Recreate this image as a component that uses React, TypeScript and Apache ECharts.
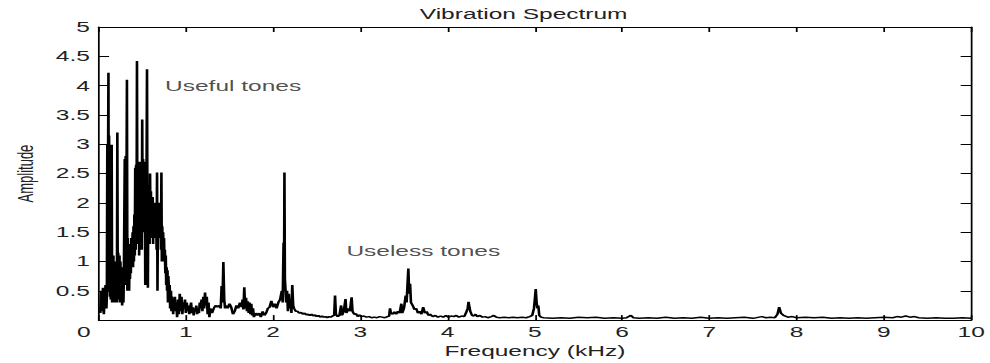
import React, { useEffect, useRef } from "react";
import * as echarts from "echarts";

// ---- data (frequency kHz, amplitude) ----
const lowBand: [number, number][] = [
  [0.02, 0.12], [0.03, 0.5], [0.04, 0.15], [0.05, 0.55], [0.06, 0.1], [0.07, 0.35], [0.08, 0.6], [0.09, 0.2], [0.095, 0.45],
  [0.1, 3.0], [0.105, 0.6], [0.11, 3.2], [0.113, 4.22], [0.117, 0.5], [0.12, 3.15], [0.125, 2.6],
  [0.13, 0.4], [0.135, 0.8], [0.14, 0.35], [0.15, 2.99], [0.155, 0.3], [0.16, 0.9], [0.165, 0.4], [0.17, 1.1], [0.175, 0.35],
  [0.18, 0.8], [0.185, 0.3], [0.19, 1.0], [0.195, 0.5], [0.2, 0.9], [0.21, 0.3], [0.215, 3.2], [0.22, 0.5], [0.225, 1.15],
  [0.23, 0.35], [0.24, 1.1], [0.245, 0.3], [0.25, 1.0], [0.26, 0.4], [0.265, 0.9], [0.27, 0.25], [0.28, 0.6], [0.285, 0.3], [0.29, 0.8],
  [0.3, 2.75], [0.305, 0.8], [0.31, 2.8], [0.315, 0.6], [0.32, 2.4], [0.325, 4.1], [0.33, 0.5],
  [0.335, 1.4], [0.34, 0.6], [0.345, 1.3], [0.35, 0.5], [0.355, 1.2], [0.36, 0.7], [0.365, 1.3], [0.37, 0.8], [0.375, 1.4],
  [0.38, 0.9], [0.39, 1.5], [0.395, 0.9], [0.4, 1.6], [0.405, 1.0], [0.41, 1.8],
  [0.415, 1.1], [0.42, 2.6], [0.425, 1.2], [0.43, 2.65], [0.435, 1.5], [0.44, 4.42], [0.445, 1.3], [0.45, 2.7], [0.455, 1.6],
  [0.46, 2.5], [0.465, 1.1], [0.47, 2.4], [0.475, 1.7], [0.48, 2.7], [0.485, 1.5], [0.49, 2.6], [0.495, 1.2], [0.5, 3.42],
  [0.505, 1.6], [0.51, 2.75], [0.515, 1.5], [0.52, 2.5], [0.525, 1.7], [0.53, 2.7], [0.535, 0.6], [0.54, 2.4], [0.545, 1.8],
  [0.55, 2.6], [0.555, 4.28], [0.56, 1.5], [0.565, 0.55], [0.57, 2.2], [0.575, 1.6], [0.58, 2.3], [0.585, 1.3], [0.59, 2.5],
  [0.595, 1.6], [0.6, 2.2], [0.605, 1.4], [0.61, 2.0], [0.615, 1.5], [0.62, 2.1], [0.625, 1.3], [0.63, 1.9], [0.635, 1.5],
  [0.64, 2.0], [0.645, 1.4], [0.65, 1.8], [0.655, 1.5], [0.66, 1.9],
  [0.665, 1.2], [0.67, 2.52], [0.675, 0.5], [0.68, 1.8], [0.685, 1.4], [0.69, 1.9], [0.695, 1.5], [0.7, 2.0], [0.705, 1.4],
  [0.71, 1.9], [0.715, 1.2], [0.72, 2.52], [0.725, 1.0], [0.73, 1.6], [0.735, 1.1], [0.74, 1.5], [0.745, 1.0], [0.75, 1.4],
  [0.755, 1.0], [0.76, 1.2],
  [0.765, 0.8], [0.77, 1.1], [0.775, 0.6], [0.78, 0.9], [0.785, 0.5], [0.79, 0.85], [0.795, 0.3], [0.8, 0.75], [0.81, 0.35],
  [0.815, 0.6], [0.82, 0.2], [0.83, 0.5], [0.835, 0.15], [0.84, 0.4], [0.85, 0.3], [0.855, 0.1], [0.86, 0.35], [0.87, 0.2],
  [0.875, 0.4], [0.88, 0.15], [0.89, 0.3], [0.9, 0.05], [0.91, 0.35], [0.92, 0.1], [0.93, 0.45], [0.94, 0.15], [0.95, 0.4],
  [0.96, 0.1], [0.97, 0.3], [0.98, 0.2], [0.99, 0.35], [1.0, 0.12],
];

const midBand: [number, number][] = [
  [1.01, 0.3], [1.02, 0.15], [1.03, 0.25], [1.04, 0.1], [1.05, 0.2], [1.06, 0.3], [1.07, 0.12], [1.08, 0.22], [1.09, 0.08],
  [1.1, 0.2], [1.11, 0.15], [1.12, 0.25], [1.13, 0.1], [1.14, 0.2], [1.15, 0.12], [1.16, 0.3], [1.17, 0.2], [1.18, 0.35],
  [1.19, 0.15], [1.2, 0.4], [1.21, 0.2], [1.22, 0.47], [1.23, 0.25], [1.24, 0.4], [1.25, 0.1], [1.26, 0.3], [1.27, 0.05],
  [1.28, 0.2], [1.3, 0.12], [1.32, 0.2], [1.34, 0.25], [1.36, 0.22], [1.38, 0.25], [1.4, 0.2], [1.41, 0.58], [1.42, 0.3],
  [1.43, 0.99], [1.44, 0.35], [1.45, 0.2], [1.46, 0.25], [1.48, 0.2], [1.5, 0.28], [1.52, 0.22], [1.54, 0.1], [1.56, 0.15],
  [1.58, 0.25], [1.6, 0.2], [1.62, 0.3], [1.64, 0.22], [1.65, 0.35], [1.66, 0.18], [1.67, 0.56], [1.68, 0.2], [1.69, 0.38],
  [1.7, 0.15], [1.71, 0.32], [1.72, 0.12], [1.73, 0.3], [1.74, 0.1], [1.75, 0.28], [1.76, 0.08], [1.77, 0.2], [1.78, 0.05],
  [1.8, 0.12], [1.82, 0.08], [1.84, 0.12], [1.86, 0.05], [1.88, 0.15], [1.9, 0.08], [1.92, 0.12], [1.94, 0.2], [1.96, 0.22],
  [1.98, 0.33], [2.0, 0.22], [2.02, 0.28], [2.04, 0.2], [2.06, 0.3], [2.08, 0.35], [2.1, 0.5], [2.11, 0.3], [2.12, 1.32],
  [2.125, 0.5], [2.13, 2.52], [2.135, 0.7], [2.14, 0.58], [2.15, 0.3], [2.16, 0.5], [2.17, 0.15], [2.18, 0.45], [2.19, 0.2],
  [2.2, 0.35], [2.21, 0.12], [2.22, 0.6], [2.23, 0.25], [2.24, 0.2], [2.26, 0.15], [2.28, 0.15], [2.3, 0.12], [2.32, 0.13],
  [2.34, 0.1], [2.36, 0.12], [2.38, 0.09], [2.4, 0.1], [2.42, 0.08], [2.44, 0.1], [2.46, 0.07], [2.48, 0.09], [2.5, 0.06],
  [2.52, 0.08], [2.54, 0.05], [2.56, 0.07], [2.58, 0.05], [2.6, 0.06], [2.62, 0.04], [2.64, 0.06], [2.66, 0.05], [2.68, 0.07],
];

const upperBand: [number, number][] = [
  [2.7, 0.08], [2.71, 0.42], [2.72, 0.1], [2.74, 0.06], [2.76, 0.08], [2.78, 0.25], [2.79, 0.08], [2.81, 0.15], [2.83, 0.36],
  [2.84, 0.12], [2.86, 0.2], [2.88, 0.15], [2.9, 0.39], [2.91, 0.15], [2.93, 0.1], [2.95, 0.11], [2.97, 0.06], [2.99, 0.09],
  [3.01, 0.06], [3.04, 0.07], [3.07, 0.05], [3.1, 0.06], [3.13, 0.04], [3.16, 0.05], [3.19, 0.04], [3.22, 0.06], [3.25, 0.05],
  [3.28, 0.04], [3.31, 0.06], [3.33, 0.07], [3.34, 0.2], [3.35, 0.12], [3.37, 0.1], [3.39, 0.14], [3.41, 0.1], [3.43, 0.15],
  [3.45, 0.12], [3.47, 0.28], [3.48, 0.12], [3.5, 0.2], [3.52, 0.42], [3.53, 0.3], [3.55, 0.88], [3.56, 0.45], [3.57, 0.62],
  [3.58, 0.3], [3.6, 0.25], [3.62, 0.18], [3.64, 0.2], [3.66, 0.12], [3.68, 0.15], [3.7, 0.1], [3.72, 0.22], [3.74, 0.12],
  [3.76, 0.15], [3.78, 0.08], [3.8, 0.1], [3.83, 0.06], [3.86, 0.08], [3.89, 0.05], [3.92, 0.07], [3.95, 0.05], [3.98, 0.08],
  [4.01, 0.05], [4.04, 0.07], [4.07, 0.06], [4.1, 0.08], [4.13, 0.05], [4.16, 0.07], [4.19, 0.06], [4.21, 0.12], [4.23, 0.2],
  [4.24, 0.31], [4.25, 0.22], [4.26, 0.15], [4.28, 0.08], [4.3, 0.07], [4.32, 0.1], [4.34, 0.06], [4.37, 0.08], [4.4, 0.05],
  [4.43, 0.06], [4.46, 0.04], [4.5, 0.06], [4.53, 0.08], [4.56, 0.05], [4.6, 0.04], [4.65, 0.05], [4.7, 0.04], [4.75, 0.05],
  [4.8, 0.04], [4.85, 0.05], [4.9, 0.04], [4.94, 0.06], [4.97, 0.08], [4.99, 0.2], [5.0, 0.36], [5.01, 0.53], [5.02, 0.3],
  [5.03, 0.2], [5.04, 0.25], [5.05, 0.08], [5.07, 0.05],
];

const tailBand: [number, number][] = [
  [5.1, 0.04], [5.2, 0.03], [5.3, 0.04], [5.4, 0.03], [5.5, 0.05], [5.6, 0.04], [5.7, 0.05], [5.8, 0.03], [5.9, 0.04],
  [6.0, 0.03], [6.05, 0.04], [6.1, 0.08], [6.13, 0.04], [6.2, 0.03], [6.3, 0.04], [6.4, 0.03], [6.5, 0.05], [6.6, 0.03],
  [6.7, 0.04], [6.8, 0.03], [6.9, 0.05], [7.0, 0.03], [7.1, 0.04], [7.2, 0.03], [7.3, 0.04], [7.4, 0.05], [7.5, 0.03],
  [7.6, 0.06], [7.65, 0.04], [7.7, 0.05], [7.75, 0.04], [7.78, 0.1], [7.8, 0.22], [7.82, 0.12], [7.85, 0.08], [7.9, 0.05],
  [7.95, 0.06], [8.0, 0.04], [8.1, 0.05], [8.2, 0.04], [8.3, 0.05], [8.4, 0.03], [8.5, 0.04], [8.6, 0.03], [8.7, 0.04],
  [8.8, 0.03], [8.9, 0.04], [9.0, 0.05], [9.1, 0.04], [9.15, 0.06], [9.2, 0.05], [9.25, 0.07], [9.3, 0.05], [9.35, 0.06],
  [9.4, 0.04], [9.5, 0.03], [9.6, 0.04], [9.7, 0.03], [9.8, 0.03], [9.9, 0.04], [10.0, 0.03],
];

const annotationTexts = ["Useful tones", "Useless tones"];
const annotationPoints: [number, number][] = [[0.752, 3.99], [2.83, 1.17]];

const CHART_W = 566;
const CHART_H = 363;
const STRETCH = 990 / CHART_W;

export default function App() {
  const ref = useRef<HTMLDivElement>(null);

  useEffect(() => {
    if (!ref.current) return;
    const chart = echarts.init(ref.current, null, { renderer: "svg", width: CHART_W, height: CHART_H });
    const font = "Liberation Sans, Arial, Helvetica, sans-serif";
    const txt = "#222";
    const spectrum = [...lowBand, ...midBand, ...upperBand, ...tailBand];
    const baseAxisLine = { show: true, onZero: false, lineStyle: { color: "#000", width: 1 } };

    chart.setOption({
      animation: false,
      backgroundColor: "#fff",
      title: {
        text: "Vibration Spectrum",
        left: 240,
        top: 7,
        padding: 0,
        textStyle: { fontFamily: font, fontSize: 14, fontWeight: "normal", color: txt },
      },
      grid: { left: 55, right: 7, top: 27, bottom: 38, containLabel: false },
      xAxis: [
        {
          type: "value",
          min: 0,
          max: 10,
          interval: 1,
          position: "bottom",
          name: "Frequency (kHz)",
          nameLocation: "middle",
          nameGap: 21,
          nameTextStyle: { fontFamily: font, fontSize: 14, color: txt },
          axisLine: baseAxisLine,
          axisTick: { show: true, inside: true, length: 5, lineStyle: { color: "#000" } },
          axisLabel: {
            show: true,
            margin: 5,
            fontFamily: font,
            fontSize: 14,
            color: txt,
            formatter: (v: number) => (v === 0 ? "{z|0}" : String(v)),
            rich: { z: { fontFamily: font, fontSize: 14, color: txt, padding: [0, 17, 0, 0] } },
          },
          splitLine: { show: false },
        },
        {
          type: "value",
          min: 0,
          max: 10,
          interval: 1,
          position: "top",
          axisLine: baseAxisLine,
          axisTick: { show: true, inside: true, length: 5, lineStyle: { color: "#000" } },
          axisLabel: { show: false },
          splitLine: { show: false },
        },
      ],
      yAxis: [
        {
          type: "value",
          min: 0,
          max: 5,
          interval: 0.5,
          position: "left",
          name: "Amplitude",
          nameLocation: "middle",
          nameRotate: 90,
          nameGap: 35,
          nameTextStyle: { fontFamily: font, fontSize: 13, color: txt },
          axisLine: baseAxisLine,
          axisTick: { show: true, inside: true, length: 6, lineStyle: { color: "#000" } },
          axisLabel: {
            show: true,
            margin: 5,
            fontFamily: font,
            fontSize: 14,
            color: txt,
            formatter: (v: number) => (v === 0 ? "" : String(v)),
          },
          splitLine: { show: false },
        },
        {
          type: "value",
          min: 0,
          max: 5,
          interval: 0.5,
          position: "right",
          axisLine: baseAxisLine,
          axisTick: { show: true, inside: true, length: 6, lineStyle: { color: "#000" } },
          axisLabel: { show: false },
          splitLine: { show: false },
        },
      ],
      series: [
        {
          type: "line",
          name: "Spectrum",
          xAxisIndex: 0,
          yAxisIndex: 0,
          data: spectrum,
          symbol: "none",
          showSymbol: false,
          silent: true,
          lineStyle: { color: "#000", width: 1.5 },
        },
        {
          type: "scatter",
          name: "Notes",
          xAxisIndex: 0,
          yAxisIndex: 0,
          silent: true,
          symbolSize: 1,
          itemStyle: { color: "rgba(0,0,0,0)" },
          data: annotationPoints.map((p, i) => ({ value: p, name: annotationTexts[i] })),
          label: {
            show: true,
            position: "right",
            distance: 0,
            formatter: (p: any) => p.name,
            fontFamily: font,
            fontSize: 14,
            color: txt,
          },
        },
      ],
    });

    return () => chart.dispose();
  }, []);

  return (
    <div
      style={{
        position: "fixed",
        left: 0,
        top: 0,
        width: 990,
        height: CHART_H,
        overflow: "hidden",
        background: "#fff",
      }}
    >
      <div
        ref={ref}
        style={{
          width: CHART_W,
          height: CHART_H,
          transform: `scaleX(${STRETCH})`,
          transformOrigin: "0 0",
        }}
      />
    </div>
  );
}
